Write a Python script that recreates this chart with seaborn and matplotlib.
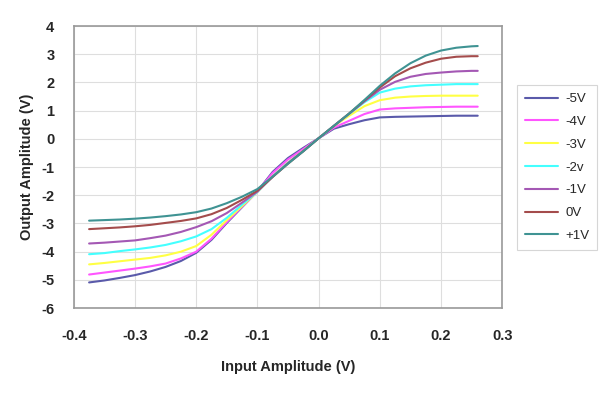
import matplotlib
matplotlib.use("Agg")
import matplotlib.pyplot as plt
import seaborn as sns
import pandas as pd

x_vals = [-0.375, -0.35, -0.325, -0.3, -0.275, -0.25, -0.225, -0.2, -0.175, -0.15, -0.125, -0.1,
          -0.075, -0.05, -0.025, 0.0, 0.025, 0.05, 0.075, 0.1, 0.125, 0.15, 0.175, 0.2, 0.225, 0.25, 0.26]

s_m5 = [-5.09, -5.02, -4.93, -4.83, -4.70, -4.54, -4.33, -4.04, -3.58, -2.98, -2.42, -1.86, -1.17, -0.68, -0.32, 0.02, 0.36, 0.52, 0.66, 0.76, 0.78, 0.79, 0.80, 0.81, 0.82, 0.82, 0.82]
s_m4 = [-4.81, -4.74, -4.67, -4.60, -4.52, -4.42, -4.24, -4.00, -3.54, -2.95, -2.40, -1.87, -1.21, -0.73, -0.36, 0.02, 0.40, 0.64, 0.88, 1.04, 1.08, 1.10, 1.12, 1.13, 1.14, 1.14, 1.14]
s_m3 = [-4.45, -4.40, -4.34, -4.28, -4.22, -4.13, -4.00, -3.80, -3.40, -2.88, -2.38, -1.88, -1.32, -0.84, -0.42, 0.02, 0.45, 0.82, 1.16, 1.37, 1.46, 1.50, 1.52, 1.53, 1.53, 1.53, 1.53]
s_m2 = [-4.09, -4.05, -3.98, -3.92, -3.85, -3.76, -3.63, -3.46, -3.20, -2.80, -2.33, -1.88, -1.33, -0.85, -0.43, 0.02, 0.46, 0.88, 1.30, 1.64, 1.78, 1.86, 1.90, 1.92, 1.94, 1.94, 1.94]
s_m1 = [-3.71, -3.68, -3.64, -3.60, -3.52, -3.43, -3.30, -3.13, -2.92, -2.63, -2.26, -1.87, -1.34, -0.86, -0.43, 0.02, 0.46, 0.89, 1.33, 1.74, 2.02, 2.20, 2.30, 2.35, 2.39, 2.41, 2.41]
s_0 = [-3.20, -3.17, -3.14, -3.10, -3.05, -2.98, -2.91, -2.82, -2.67, -2.45, -2.16, -1.84, -1.35, -0.88, -0.44, 0.02, 0.46, 0.90, 1.36, 1.82, 2.22, 2.50, 2.70, 2.84, 2.91, 2.93, 2.93]
s_p1 = [-2.90, -2.88, -2.86, -2.83, -2.79, -2.74, -2.68, -2.60, -2.47, -2.28, -2.05, -1.78, -1.34, -0.88, -0.44, 0.02, 0.46, 0.90, 1.38, 1.88, 2.32, 2.68, 2.95, 3.13, 3.23, 3.28, 3.29]

series_names = ["-5V", "-4V", "-3V", "-2v", "-1V", "0V", "+1V"]
series_values = [s_m5, s_m4, s_m3, s_m2, s_m1, s_0, s_p1]
colors = ["#5a5aaa", "#ff55ff", "#ffff44", "#44ffff", "#a458b4", "#a44c4c", "#3f9393"]

x_ticks = [-0.4, -0.3, -0.2, -0.1, 0.0, 0.1, 0.2, 0.3]
y_ticks = [4, 3, 2, 1, 0, -1, -2, -3, -4, -5, -6]

rows = []
for name, vals in zip(series_names, series_values):
    for xv, yv in zip(x_vals, vals):
        rows.append({"x": xv, "y": yv, "series": name})
df = pd.DataFrame(rows)

sns.set_style("white")
plt.rcParams["font.family"] = ["Liberation Sans", "DejaVu Sans"]

fig = plt.figure(figsize=(6.0, 3.94), dpi=100)
ax = fig.add_axes([0.123, 0.218, 0.714, 0.716])

sns.lineplot(data=df, x="x", y="y", hue="series", hue_order=series_names,
             palette=dict(zip(series_names, colors)), linewidth=1.5,
             ax=ax, legend=True, estimator=None, sort=False)

ax.set_xlim(-0.4, 0.3)
ax.set_ylim(-6, 4)
ax.set_xticks(x_ticks)
ax.set_yticks(y_ticks)
ax.set_xticklabels([f"{t:.1f}" for t in x_ticks], fontsize=10.5, fontweight="bold")
ax.set_yticklabels([str(t) for t in y_ticks], fontsize=10.5, fontweight="bold")
ax.grid(True, color="#dedede", linewidth=0.8)
ax.set_axisbelow(True)
for sp in ax.spines.values():
    sp.set_color("#999999")
    sp.set_linewidth(1.2)
ax.tick_params(axis="x", direction="out", length=4, color="#bbbbbb", width=0.8, pad=11)
ax.tick_params(axis="y", direction="out", length=4, color="#bbbbbb", width=0.8, pad=10)
ax.set_xlabel("Input Amplitude (V)", fontsize=10.5, fontweight="bold", labelpad=12)
ax.set_ylabel("Output Amplitude (V)", fontsize=10.5, fontweight="bold", labelpad=5)

handles, labels = ax.get_legend_handles_labels()
leg = ax.legend(handles, labels, loc="upper left", bbox_to_anchor=(0.862, 0.784),
                bbox_transform=fig.transFigure, frameon=True, fancybox=False,
                fontsize=9.5, handlelength=2.5, labelspacing=0.8, borderpad=0.6,
                handletextpad=0.55, borderaxespad=0)
leg.get_frame().set_edgecolor("#cccccc")
leg.get_frame().set_linewidth(0.8)

fig.savefig("out.png", dpi=100)
